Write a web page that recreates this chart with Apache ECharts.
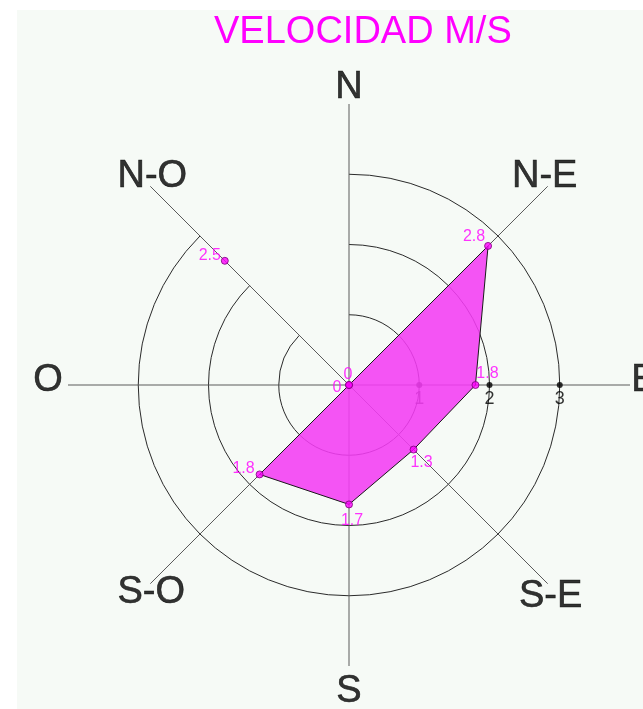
<!DOCTYPE html>
<html>
<head>
<meta charset="utf-8">
<style>
  html, body { margin: 0; padding: 0; background: #ffffff; }
  #chart { width: 643px; height: 709px; }
</style>
<script src="https://cdn.jsdelivr.net/npm/echarts@6/dist/echarts.min.js"></script>
</head>
<body>
<div id="chart"></div>
<script>
// ---- data ----
const titleText = 'VELOCIDAD M/S';
const directions = ['N', 'N-E', 'E', 'S-E', 'S', 'S-O', 'O', 'N-O'];
const speeds = [0, 2.8, 1.8, 1.3, 1.7, 1.8, 0, 2.5];
// the source polygon runs from N to O only (N-O point is plotted but not joined)
const polygonDirections = ['N', 'N-E', 'E', 'S-E', 'S', 'S-O', 'O'];
const radiusTicks = [1, 2, 3];
const radiusTickDirection = 'E';
const radiusMax = 4;

// ---- styles (not data) ----
const FONT = 'Liberation Sans, Arial, sans-serif';
const MAGENTA = '#ff00ff';
const dirLabelOffset = {
  'N': [0, -16], 'N-E': [-3, -10], 'E': [14, -4], 'S-E': [3, 13],
  'S': [0, 26], 'S-O': [1, 9], 'O': [-20, -4], 'N-O': [2, -10]
};
const valueLabelOffset = {
  'N': [-1, -10], 'N-E': [-14, -9], 'E': [12, -11], 'S-E': [8, 13],
  'S': [3, 16], 'S-O': [-16, -6], 'O': [-12, 3], 'N-O': [-15, -5]
};

const speedByDir = {};
directions.forEach((d, i) => { speedByDir[d] = speeds[i]; });

const chart = echarts.init(document.getElementById('chart'), null, { renderer: 'canvas' });

const option = {
  backgroundColor: '#ffffff',
  animation: false,
  graphic: [{
    type: 'rect', left: 17, top: 10, z: -10, silent: true,
    shape: { width: 626, height: 699 },
    style: { fill: '#f6faf6' }
  }],
  title: {
    text: titleText,
    left: 209, top: 9,
    textStyle: { color: MAGENTA, fontSize: 38, fontWeight: 'normal', fontFamily: FONT }
  },
  polar: { center: [349, 385], radius: 281 },
  angleAxis: {
    type: 'category',
    data: directions,
    startAngle: 90,
    clockwise: true,
    boundaryGap: false,
    axisLine: { show: false },
    axisTick: { show: false },
    axisLabel: { show: false },
    splitLine: { show: true, lineStyle: { color: '#5a5a5a', width: 1 } }
  },
  radiusAxis: {
    type: 'value',
    min: 0, max: radiusMax, interval: 1,
    axisLine: { show: false },
    axisTick: { show: false },
    axisLabel: { show: false },
    splitLine: {
      show: true,
      lineStyle: { color: ['rgba(0,0,0,0)', '#2a2a2a', '#2a2a2a', '#2a2a2a', 'rgba(0,0,0,0)'], width: 1 }
    }
  },
  series: [
    {
      // radius tick markers along E
      type: 'scatter',
      coordinateSystem: 'polar',
      clip: false,
      symbol: 'circle',
      symbolSize: 6,
      itemStyle: { color: '#000' },
      label: {
        show: true, position: 'bottom', distance: 2,
        formatter: p => String(p.value[0]),
        color: '#000', fontSize: 18, fontFamily: FONT
      },
      data: radiusTicks.map(t => [t, radiusTickDirection])
    },
    {
      // polygon
      type: 'line',
      coordinateSystem: 'polar',
      showSymbol: false,
      symbol: 'none',
      lineStyle: { color: '#1a1a1a', width: 1 },
      areaStyle: { color: '#f43cf4', opacity: 0.88 },
      data: polygonDirections.map(d => [speedByDir[d], d])
    },
    {
      // value markers & labels
      type: 'scatter',
      coordinateSystem: 'polar',
      clip: false,
      symbol: 'circle',
      symbolSize: 7,
      itemStyle: { color: MAGENTA, borderColor: '#7a007a', borderWidth: 1 },
      data: directions.map((d, i) => ({
        value: [speeds[i], d],
        label: { offset: valueLabelOffset[d] }
      })),
      label: {
        show: true, position: 'inside',
        formatter: p => String(p.value[0]),
        color: MAGENTA, fontSize: 16, fontFamily: FONT,
        textBorderWidth: 0
      },
      z: 5
    },
    {
      // direction labels at the spoke ends
      type: 'scatter',
      coordinateSystem: 'polar',
      clip: false,
      symbol: 'circle',
      symbolSize: 0,
      silent: true,
      data: directions.map(d => ({
        value: [radiusMax, d],
        label: { offset: dirLabelOffset[d] }
      })),
      label: {
        show: true, position: 'inside',
        formatter: p => p.value[1],
        color: '#000', fontSize: 38, fontFamily: FONT,
        textBorderColor: '#000', textBorderWidth: 0.6
      },
      z: 6
    }
  ]
};

chart.setOption(option);
</script>
</body>
</html>
